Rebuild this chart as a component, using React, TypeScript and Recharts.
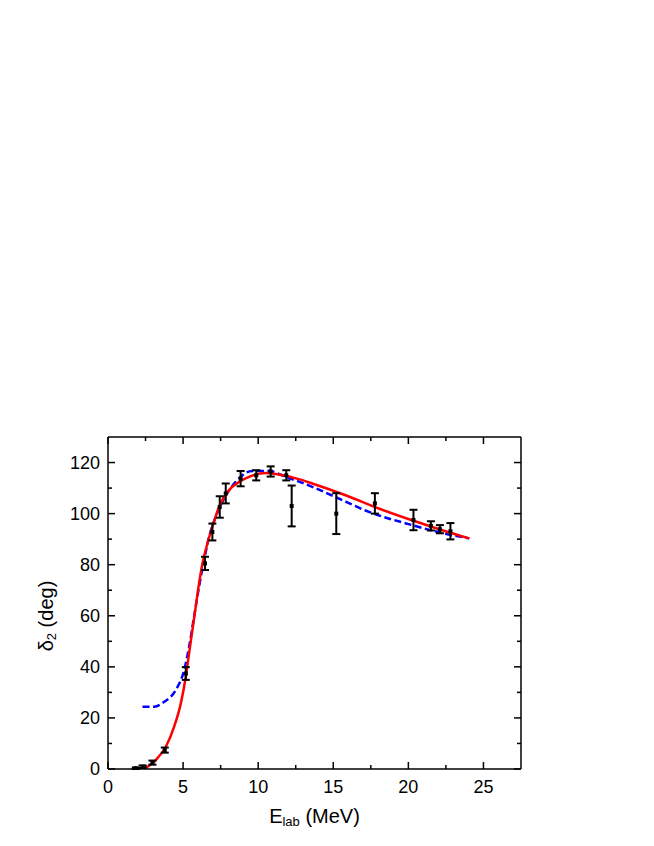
import { ComposedChart, Line, Scatter, ErrorBar, XAxis, YAxis } from 'recharts';

// measured phase shifts
const expEnergy = [1.85, 2.3, 2.96, 3.78, 5.18, 6.46, 6.95, 7.44, 7.84, 8.83, 9.87, 10.83, 11.87, 12.23, 15.2, 17.77, 20.34, 21.5, 22.1, 22.8];
const expDelta = [0.3, 0.9, 2.5, 7.4, 37.4, 80.5, 92.8, 102.6, 107.9, 113.7, 115, 116.5, 115, 103, 100, 104, 97.5, 95.2, 93.9, 93.1];
const expError = [0.3, 0.5, 0.8, 1, 2.5, 2.6, 3.3, 4.2, 3.9, 3, 2, 2, 2, 8, 8, 4, 4, 1.8, 1.6, 3.2];

// solid red curve
const redEnergy = [2.41, 3.18, 3.85, 4.4, 4.85, 5.18, 5.4, 5.62, 5.84, 6.06, 6.29, 6.62, 6.95, 7.39, 8.06, 8.72, 9.39, 10.5, 11.38, 12.7, 13.6, 15.82, 18.03, 20.25, 22.47, 24.06];
const redDelta = [0, 3.5, 8.7, 16.5, 25.7, 36.1, 45.3, 54.4, 63.5, 72.6, 80.5, 88.3, 94.8, 102.6, 109.2, 112.4, 114.4, 115.9, 115.3, 113.5, 111.8, 107.2, 102, 97.4, 93.1, 90.3];

// dashed blue curve
const blueEnergy = [2.3, 3.07, 3.74, 4.51, 5.07, 5.4, 5.73, 6.06, 6.4, 6.73, 7.17, 7.73, 8.5, 9.6, 10.7, 11.83, 13.6, 15.15, 17.37, 20.25, 22.47, 24.06];
const blueDelta = [24.4, 24.4, 26.3, 30.9, 38.7, 47.8, 59.6, 71.3, 81.8, 90.9, 98.7, 105.9, 112.4, 116.7, 116.7, 114.4, 110.5, 106.5, 100.7, 95.5, 92.1, 90.3];

const xTicks = [0, 2.5, 5, 7.5, 10, 12.5, 15, 17.5, 20, 22.5, 25];
const yTicks = [0, 10, 20, 30, 40, 50, 60, 70, 80, 90, 100, 110, 120];

const expData = expEnergy.map((x, i) => ({ x, y: expDelta[i], err: expError[i] }));
const redData = redEnergy.map((x, i) => ({ x, y: redDelta[i] }));
const blueData = blueEnergy.map((x, i) => ({ x, y: blueDelta[i] }));

const FONT = '"Liberation Sans", Arial, sans-serif';
const MAJOR = 7;
const MINOR = 4;

const BottomTick = ({ x, y, payload }: any) => {
  const major = payload.value % 5 === 0;
  return (
    <g>
      <line x1={x} x2={x} y1={y} y2={y - (major ? MAJOR : MINOR)} stroke="#000" strokeWidth={1.5} />
      {major && (
        <text x={x} y={y + 18} textAnchor="middle" dominantBaseline="central" fontSize={18} fontFamily={FONT} fill="#000">
          {payload.value}
        </text>
      )}
    </g>
  );
};

const TopTick = ({ x, y, payload }: any) => {
  const major = payload.value % 5 === 0;
  return <line x1={x} x2={x} y1={y} y2={y + (major ? MAJOR : MINOR)} stroke="#000" strokeWidth={1.5} />;
};

const LeftTick = ({ x, y, payload }: any) => {
  const major = payload.value % 20 === 0;
  return (
    <g>
      <line x1={x} x2={x + (major ? MAJOR : MINOR)} y1={y} y2={y} stroke="#000" strokeWidth={1.5} />
      {major && (
        <text x={x - 8} y={y} textAnchor="end" dominantBaseline="central" fontSize={18} fontFamily={FONT} fill="#000">
          {payload.value}
        </text>
      )}
    </g>
  );
};

const RightTick = ({ x, y, payload }: any) => {
  const major = payload.value % 20 === 0;
  return <line x1={x} x2={x - (major ? MAJOR : MINOR)} y1={y} y2={y} stroke="#000" strokeWidth={1.5} />;
};

const XTitle = ({ viewBox }: any) => {
  const cx = viewBox.x + viewBox.width / 2;
  return (
    <text x={cx} y={viewBox.y + 47} textAnchor="middle" dominantBaseline="central" fontSize={20} fontFamily={FONT} fill="#000">
      E<tspan fontSize={13} dy={5}>lab</tspan>
      <tspan dy={-5}> (MeV)</tspan>
    </text>
  );
};

const YTitle = ({ viewBox }: any) => {
  const cx = viewBox.x + viewBox.width - 62;
  const cy = viewBox.y + viewBox.height / 2 + 13;
  return (
    <text x={cx} y={cy} transform={`rotate(-90 ${cx} ${cy})`} textAnchor="middle" dominantBaseline="central" fontSize={20} fontFamily={FONT} fill="#000">
      δ<tspan fontSize={13} dy={5}>2</tspan>
      <tspan dy={-5}> (deg)</tspan>
    </text>
  );
};

const Square = ({ cx, cy }: any) => <rect x={cx - 2} y={cy - 2} width={4} height={4} fill="#000" />;

export default function App() {
  return (
    <div style={{ position: 'absolute', left: 0, top: 0, background: '#fff' }}>
      <ComposedChart width={654} height={846} margin={{ top: 436, right: 132, bottom: 27, left: 48 }}>
        <XAxis
          dataKey="x"
          type="number"
          domain={[0, 27.5]}
          ticks={xTicks}
          interval={0}
          height={50}
          tickSize={0}
          tickMargin={0}
          tickLine={false}
          tick={BottomTick}
          axisLine={{ stroke: '#000', strokeWidth: 1.5 }}
          allowDataOverflow
          label={<XTitle />}
        />
        <XAxis
          xAxisId="top"
          orientation="top"
          dataKey="x"
          type="number"
          domain={[0, 27.5]}
          ticks={xTicks}
          interval={0}
          height={1}
          tickSize={0}
          tickMargin={0}
          tickLine={false}
          tick={TopTick}
          axisLine={{ stroke: '#000', strokeWidth: 1.5 }}
          allowDataOverflow
        />
        <YAxis
          type="number"
          domain={[0, 130]}
          ticks={yTicks}
          interval={0}
          width={60}
          tickSize={0}
          tickMargin={0}
          tickLine={false}
          tick={LeftTick}
          axisLine={{ stroke: '#000', strokeWidth: 1.5 }}
          allowDataOverflow
          label={<YTitle />}
        />
        <YAxis
          yAxisId="right"
          orientation="right"
          type="number"
          domain={[0, 130]}
          ticks={yTicks}
          interval={0}
          width={1}
          tickSize={0}
          tickMargin={0}
          tickLine={false}
          tick={RightTick}
          axisLine={{ stroke: '#000', strokeWidth: 1.5 }}
          allowDataOverflow
        />
        <Line
          data={blueData}
          dataKey="y"
          type="monotone"
          stroke="#0000ff"
          strokeWidth={2.5}
          strokeDasharray="7 3.5"
          dot={false}
          activeDot={false}
          isAnimationActive={false}
        />
        <Line
          data={redData}
          dataKey="y"
          type="monotone"
          stroke="#ff0000"
          strokeWidth={2.5}
          dot={false}
          activeDot={false}
          isAnimationActive={false}
        />
        <Scatter data={expData} dataKey="y" shape={<Square />} isAnimationActive={false}>
          <ErrorBar dataKey="err" direction="y" width={4} strokeWidth={2} stroke="#000" />
        </Scatter>
      </ComposedChart>
    </div>
  );
}
